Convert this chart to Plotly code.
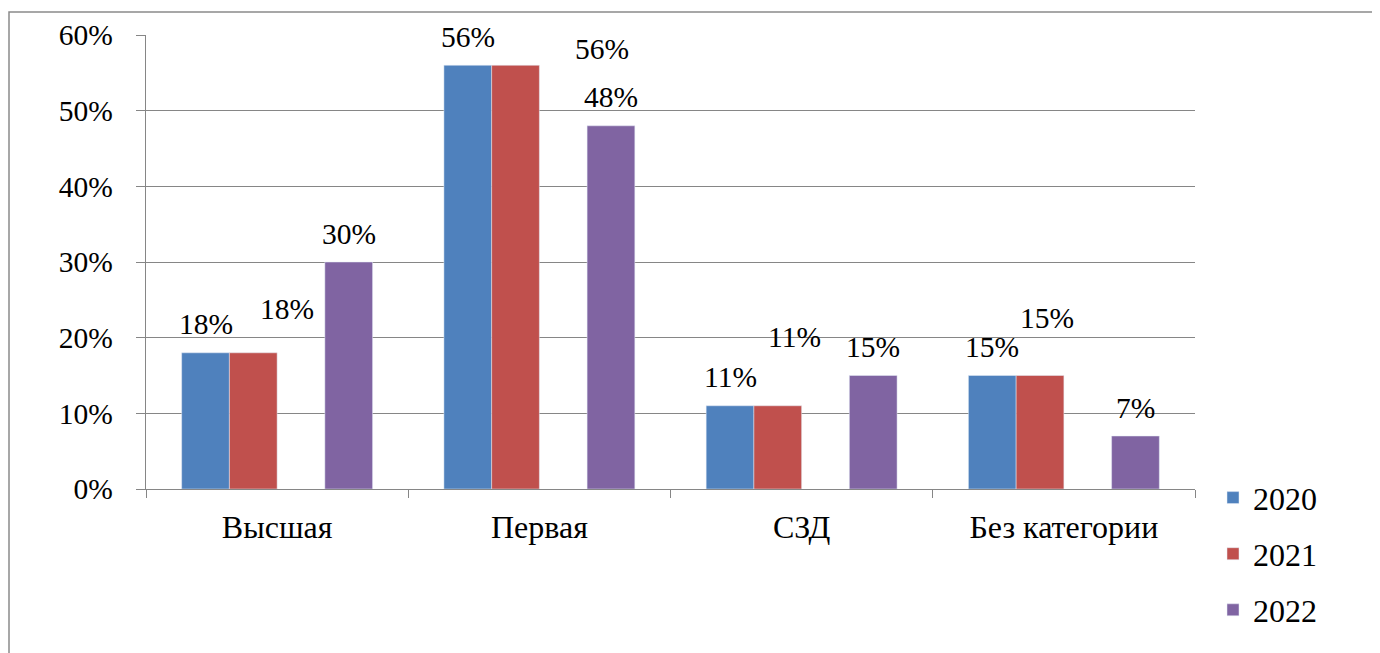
import plotly.graph_objects as go

categories = ["Высшая", "Первая", "СЗД", "Без категории"]
series_names = ["2020", "2021", "2022"]
v2020 = [0.18, 0.56, 0.11, 0.15]
v2021 = [0.18, 0.56, 0.11, 0.15]
v2022 = [0.30, 0.48, 0.15, 0.07]
y_ticks = [0, 0.1, 0.2, 0.3, 0.4, 0.5, 0.6]

colors = ["#4F81BD", "#C0504D", "#8064A2"]
FONT = "Liberation Serif"

OFF = 8  # page body margin
W, H = 1380 - OFF, 653 - OFF
L, R, T, B = 146 - OFF, 1195 - OFF, 35 - OFF, 489 - OFF
pw, ph = R - L, B - T

fig = go.Figure()
fig.add_trace(go.Bar(x=categories, y=v2020, name=series_names[0], marker_color=colors[0],
                     legendgroup="a"))
fig.add_trace(go.Bar(x=categories, y=v2021, name=series_names[1], marker_color=colors[1],
                     legendgroup="b"))
# empty slot (hidden series in original chart)
fig.add_trace(go.Bar(x=categories, y=[None] * len(categories), name="", showlegend=False,
                     hoverinfo="skip", legendgroup="z"))
fig.add_trace(go.Bar(x=categories, y=v2022, name=series_names[2], marker_color=colors[2],
                     legendgroup="c"))

bargap = 0.272
slot = pw / len(categories) * (1 - bargap) / 4
slot_offsets = [-1.5 * slot, -0.5 * slot, 1.5 * slot]
label_dy = 28.5
# manual label displacement of the 2021 labels (dx, extra dy) in px
shift_2021 = [(33.7, 15.2), (86, -12.5), (16.3, 40.5), (6.7, 29.5)]

ann = []
for si, vals in enumerate([v2020, v2021, v2022]):
    for ci, (c, v) in enumerate(zip(categories, vals)):
        dx, dy = slot_offsets[si], label_dy
        if si == 1:
            dx += shift_2021[ci][0]
            dy += shift_2021[ci][1]
        ann.append(dict(x=c, y=v, xref="x", yref="y", text=f"{round(v*100)}%",
                        showarrow=False, xshift=dx, yshift=dy, yanchor="middle",
                        xanchor="center", font=dict(family=FONT, size=29.5, color="black")))

def px_x(p):
    return (p - OFF - L) / pw

def px_y(p):
    return (B - (p - OFF)) / ph

shapes = [dict(type="path", xref="paper", yref="paper",
               path=f"M {px_x(9)} {px_y(700)} L {px_x(9)} {px_y(12)} L {px_x(1400)} {px_y(12)}",
               line=dict(color="#8A8A8A", width=1.5))]

fig.update_layout(
    width=W, height=H,
    margin=dict(l=L, r=W - R, t=T, b=H - B, pad=0),
    plot_bgcolor="white", paper_bgcolor="white",
    barmode="group", bargap=bargap, bargroupgap=0,
    font=dict(family=FONT, size=29, color="black"),
    xaxis=dict(showline=True, linecolor="#868686", linewidth=1.3,
               ticks="outside", tickson="boundaries", ticklen=8, tickcolor="#868686",
               tickwidth=1.3, tickfont=dict(family=FONT, size=32), showgrid=False,
               ticklabelstandoff=9),
    yaxis=dict(range=[0, 0.6], tickvals=y_ticks, tickformat=".0%",
               showline=True, linecolor="#868686", linewidth=1.3,
               ticks="outside", ticklen=9, tickcolor="#868686", tickwidth=1.3,
               showgrid=True, gridcolor="#868686", gridwidth=1.3,
               zeroline=False, tickfont=dict(family=FONT, size=29.5), ticklabelstandoff=17),
    legend=dict(x=px_x(1213), y=px_y(470.3), xanchor="left", yanchor="top",
                font=dict(family=FONT, size=32), tracegroupgap=11.5, traceorder="grouped",
                bgcolor="rgba(0,0,0,0)"),
    annotations=ann,
    shapes=shapes,
)

fig.write_html("out.html")
